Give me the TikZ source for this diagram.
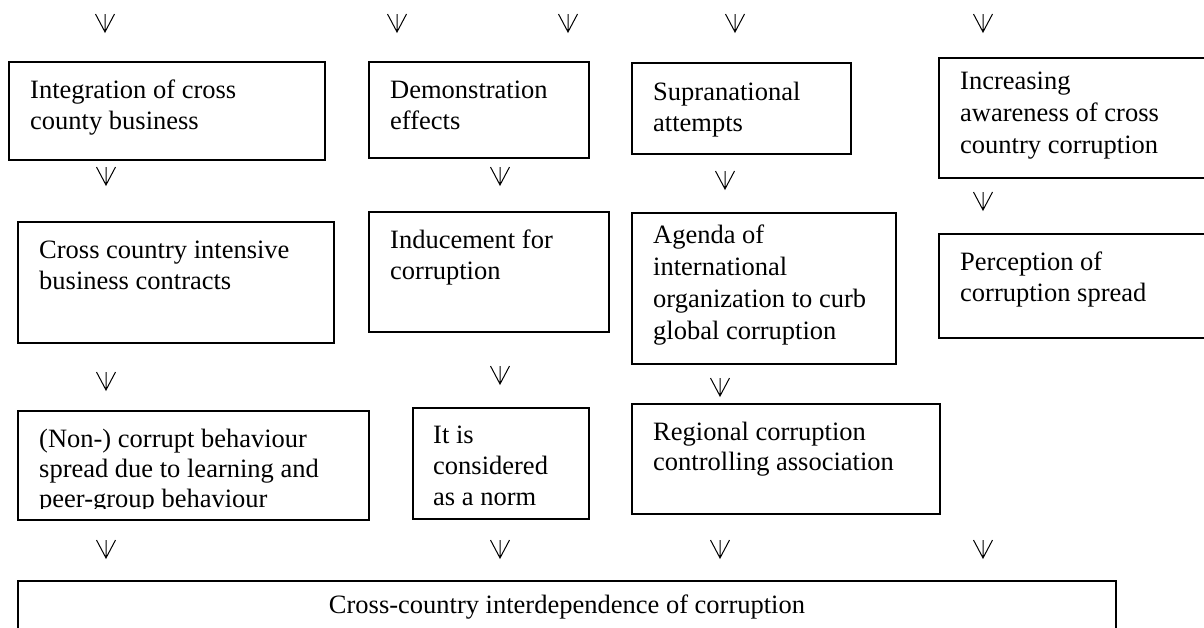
\documentclass[tikz,border=0pt]{standalone}
\usepackage{fontspec}
\setmainfont{Liberation Serif}
\begin{document}
\begin{tikzpicture}[x=1pt,y=-1pt,
  boxframe/.style={draw=black,line width=1.2pt},
  txt/.style={inner sep=0pt,anchor=base west,font=\fontsize{26.5}{31}\selectfont},
  vdown/.pic={\draw[line width=1pt,line join=miter] (-9.5,0) -- (0,18) -- (9.5,0) (0,0) -- (0,18);}
]
\useasboundingbox (0,0) rectangle (1204,627);
\clip (0,0) rectangle (1204,627);

% ---- boxes ----
\draw[boxframe] (9,62) rectangle (325,160) coordinate (a1);
\draw[boxframe] (369,62) rectangle (589,158) coordinate (b1);
\draw[boxframe] (632,63) rectangle (851,154) coordinate (c1);
\draw[boxframe] (939,58) rectangle (1215,178) coordinate (d1);
\draw[boxframe] (18,222) rectangle (334,343) coordinate (a2);
\draw[boxframe] (369,212) rectangle (609,332) coordinate (b2);
\draw[boxframe] (632,213) rectangle (896,364) coordinate (c2);
\draw[boxframe] (939,234) rectangle (1215,338) coordinate (d2);
\draw[boxframe] (18,411) rectangle (369,520) coordinate (a3);
\draw[boxframe] (413,408) rectangle (589,519) coordinate (b3);
\draw[boxframe] (632,404) rectangle (940,514) coordinate (c3);
\draw[boxframe] (18,581) rectangle (1116,640) coordinate (bot);

% ---- texts ----
\node[txt] (ta1) at (30,98) {\parbox[t]{274pt}{\raggedright Integration of cross\\county business}};
\node[txt] (tb1) at (390,98) {\parbox[t]{178pt}{\raggedright Demonstration\\effects}};
\node[txt] (tc1) at (653,100) {\parbox[t]{177pt}{\raggedright Supranational\\attempts}};
\node[txt,font=\fontsize{26.5}{32}\selectfont] (td1) at (960,89) {\parbox[t]{240pt}{\raggedright Increasing\\awareness of cross\\country corruption}};
\node[txt] (ta2) at (39,258) {\parbox[t]{274pt}{\raggedright Cross country intensive\\business contracts}};
\node[txt] (tb2) at (390,248) {\parbox[t]{198pt}{\raggedright Inducement for\\corruption}};
\node[txt,font=\fontsize{26.5}{32}\selectfont] (tc2) at (653,243) {\parbox[t]{222pt}{\raggedright Agenda of\\international\\organization to curb\\global corruption}};
\node[txt] (td2) at (960,270) {\parbox[t]{240pt}{\raggedright Perception of\\corruption spread}};
\begin{scope}
\clip (18,411) rectangle (369,508);
\node[txt,font=\fontsize{26.5}{30}\selectfont] (ta3) at (39,447) {\parbox[t]{309pt}{\raggedright (Non-) corrupt behaviour\\spread due to learning and\\peer-group behaviour}};
\end{scope}
\node[txt] (tb3) at (433,443) {\parbox[t]{140pt}{\raggedright It is\\considered\\as a norm}};
\node[txt,font=\fontsize{26.5}{30}\selectfont] (tc3) at (653,440) {\parbox[t]{266pt}{\raggedright Regional corruption\\controlling association}};
\node[txt,anchor=base] (tbot) at (567,613) {Cross-country interdependence of corruption};

% ---- arrow glyphs ----
\pic (v1) at (105,14) {vdown};
\pic (v2) at (397,14) {vdown};
\pic (v3) at (568,14) {vdown};
\pic (v4) at (735,14) {vdown};
\pic (v5) at (983,14) {vdown};

\pic (w1) at (106,167) {vdown};
\pic (w2) at (500,167) {vdown};
\pic (w3) at (725,171) {vdown};
\pic (w4) at (983,192) {vdown};

\pic (x1) at (106,372) {vdown};
\pic (x2) at (500,366) {vdown};
\pic (x3) at (720,378) {vdown};

\pic (y1) at (106,540) {vdown};
\pic (y2) at (500,540) {vdown};
\pic (y3) at (720,540) {vdown};
\pic (y4) at (983,540) {vdown};
\end{tikzpicture}
\end{document}
